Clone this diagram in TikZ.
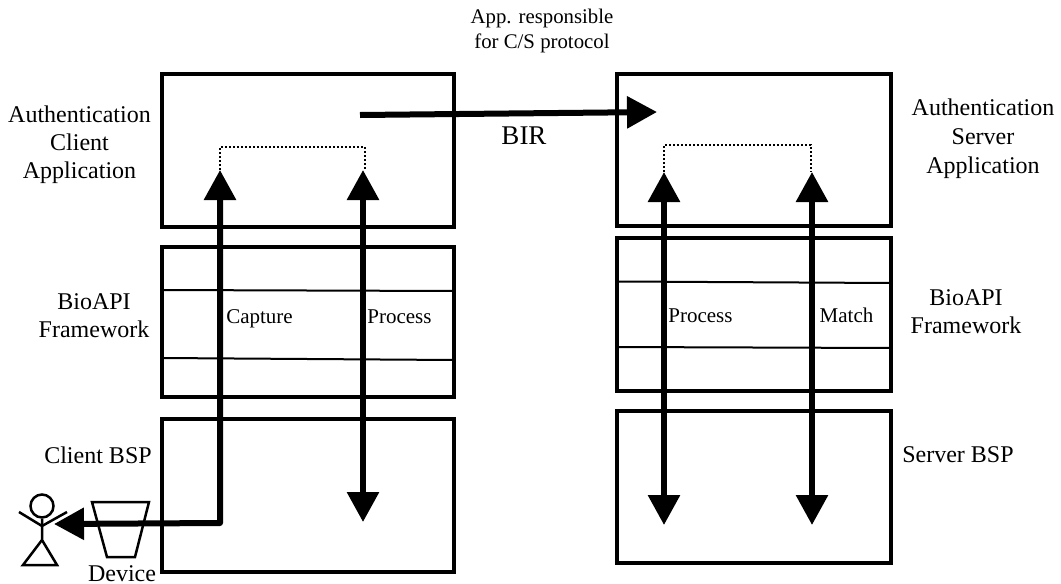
\documentclass[tikz,border=0pt]{standalone}
\usepackage{fontspec}
\setmainfont{Liberation Serif}
\usetikzlibrary{arrows.meta}
\tikzset{layer/.style={draw, line width=2pt, anchor=north west, inner sep=0pt, outer sep=0pt},
  flow/.style={line width=3pt, line join=round, >={Triangle[length=15pt,width=15.5pt]}},
  hop/.style={line width=1pt, densely dotted},
  lbl/.style={align=center, font=\fontsize{12}{14}\selectfont, inner sep=0pt},
  small/.style={font=\fontsize{10.5}{12}\selectfont, inner sep=0pt, text height=7pt, text depth=2.5pt},
  figure/.style={line width=1.25pt}}

\begin{document}
\begin{tikzpicture}[x=0.5pt,y=-0.5pt]
      \useasboundingbox (0,0) rectangle (1061,584);
      % client side
      \node (capp) [layer, minimum width=146pt, minimum height=76.5pt] at (162,74) {};
      \node (cfw) [layer, minimum width=146pt, minimum height=75pt] at (162,247) {};
      \node (cbsp) [layer, minimum width=146pt, minimum height=76.5pt] at (162,419) {};
      \draw [line width=1pt] (162,290) -- (454,291);
      \draw [line width=1pt] (162,358) -- (454,360);
      % server side
      \node (sapp) [layer, minimum width=137pt, minimum height=76pt] at (617,74) {};
      \node (sfw) [layer, minimum width=137pt, minimum height=76.5pt] at (617,238) {};
      \node (sbsp) [layer, minimum width=137pt, minimum height=76pt] at (617,411) {};
      \draw [line width=1pt] (617,281.5) -- (891,283);
      \draw [line width=1pt] (617,347) -- (891,348);
      % arrows
      \coordinate (corner) at (220,523);
      \coordinate (user) at (54,524);
      \coordinate (captop) at (220,170);
      \coordinate (ptop) at (363,170);
      \coordinate (pbot) at (363,522);
      \coordinate (bira) at (360,115);
      \coordinate (birb) at (657,112);
      \coordinate (sptop) at (664,172);
      \coordinate (spbot) at (664,525);
      \coordinate (smtop) at (812,172);
      \coordinate (smbot) at (812,525);
      \draw [flow, <->] (user) -- (corner) -- (captop);
      \draw [flow, <->] (pbot) -- (ptop);
      \draw [flow, ->] (bira) -- (birb);
      \draw [flow, <->] (spbot) -- (sptop);
      \draw [flow, <->] (smbot) -- (smtop);
      \draw [hop] (captop) -- (220,147) -- (365,147) -- (365,170);
      \draw [hop] (sptop) -- (664,145) -- (811,145) -- (811,172);
      % user and device
      \node (head) [draw, circle, figure, minimum size=11.5pt, inner sep=0pt] at (42,506) {};
      \draw [figure] (head.south) -- (42,540) -- (23,565) -- (57,565) -- (42,540);
      \draw [figure] (19,512) -- (42,526) -- (67,512);
      \draw [figure] (92,502) -- (149,502) -- (135,557) -- (107,557) -- cycle;
      % labels
      \node (t1) [align=center, font=\fontsize{10.4}{12.5}\selectfont, inner sep=0pt] at (542,31) {App. responsible\\for C/S protocol};
      \node (bir) [lbl, font=\fontsize{13.5}{14}\selectfont] at (524,136) {BIR};
      \node (l1) [lbl] at (79.5,145) {Authentication\\Client\\Application};
      \node (l2) [lbl, font=\fontsize{12}{14.4}\selectfont] at (983,139) {Authentication\\Server\\Application};
      \node (l3) [lbl] at (94,316) {BioAPI\\Framework};
      \node (l4) [lbl] at (966,312) {BioAPI\\Framework};
      \node (l5) [lbl] at (98,455) {Client BSP};
      \node (l6) [lbl] at (958,455) {Server BSP};
      \node (l7) [lbl] at (122,574) {Device};
      \node (c1) [small] at (259.5,318.5) {Capture};
      \node (c2) [small] at (399.5,318.5) {Process};
      \node (c3) [small] at (700.5,317.5) {Process};
      \node (c4) [small] at (846.5,317.5) {Match};
\end{tikzpicture}
\end{document}
